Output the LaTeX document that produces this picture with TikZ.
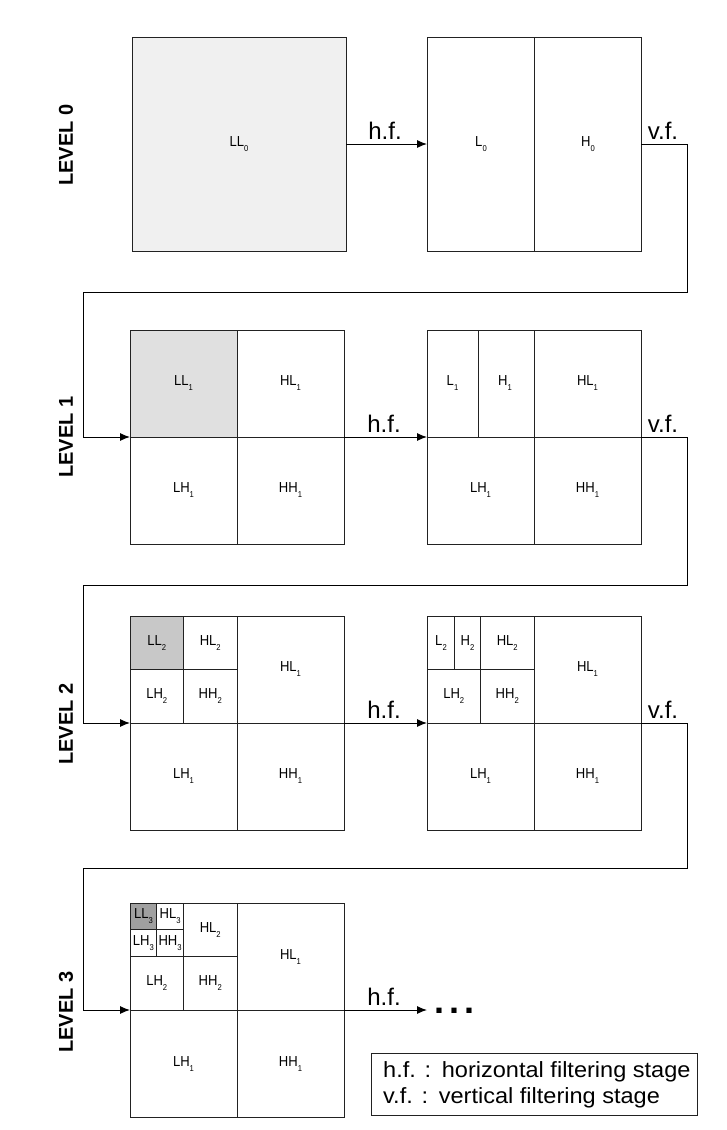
\documentclass[tikz,border=0pt]{standalone}
\usepackage{fontspec}
\setmainfont{Liberation Sans}
\newfontfamily\narrowfont[FakeStretch=0.9]{Liberation Sans}
\newfontfamily\widefont[FakeStretch=1.07]{Liberation Sans}
\usetikzlibrary{arrows.meta}
\definecolor{gA}{HTML}{F0F0F0}
\definecolor{gB}{HTML}{E0E0E0}
\definecolor{gC}{HTML}{C8C8C8}
\definecolor{gD}{HTML}{A0A0A0}
\definecolor{ln}{HTML}{222222}
\newcommand\lowidx[1]{\raisebox{-5pt}{\fontsize{8.5}{8.5}\selectfont #1}}
\tikzset{
  box/.style={draw=ln, line width=1pt, minimum width=214pt, minimum height=214pt, inner sep=0pt, outer sep=0pt},
  cut/.style={draw=ln, line width=1pt},
  cell/.style={font=\narrowfont\fontsize{14.5}{14.5}\selectfont, inner sep=0pt},
  flow/.style={draw=black, line width=1pt, -{Latex[length=10pt,width=8pt]}},
  wire/.style={draw=black, line width=1pt},
  flab/.style={font=\fontsize{24}{24}\selectfont, inner sep=0pt, anchor=base},
  lev/.style={font=\bfseries\fontsize{20}{20}\selectfont, rotate=90, inner sep=0pt},
  legtxt/.style={font=\widefont\fontsize{22}{22}\selectfont, inner sep=0pt, anchor=base west},
}
\begin{document}
\begin{tikzpicture}[x=1pt,y=-1pt]
\useasboundingbox (0,0) rectangle (727,1130);

% ---------------- LEVEL 0
\node[lev] (lev0) at (66,145) {LEVEL 0};
\node[box, fill=gA] (A0) at (239,144) {};
\node[box] (B0) at (534,144) {};
\draw[cut] (B0.north) -- (B0.south);
\node[cell] at (A0.center) {LL\lowidx{0}};
\node[cell] at (481,144) {L\lowidx{0}};
\node[cell] at (588,144) {H\lowidx{0}};
\draw[flow] (A0.east) -- (B0.west);
\node[flab] (hf0) at (385,139) {h.f.};
\coordinate (c0a) at (687,144);
\coordinate (c0b) at (687,292);
\coordinate (c0c) at (83,292);
\coordinate (c0d) at (83,437);

% ---------------- LEVEL 1
\node[lev] (lev1) at (66,437) {LEVEL 1};
\node[box] (A1) at (237,437) {};
\fill[gB] (A1.north west) rectangle (A1.center);
\node[box] (A1b) at (237,437) {};
\draw[cut] (A1.north) -- (A1.south);
\draw[cut] (A1.west) -- (A1.east);
\node[cell] at (183.5,383.5) {LL\lowidx{1}};
\node[cell] at (290.5,383.5) {HL\lowidx{1}};
\node[cell] at (183.5,490.5) {LH\lowidx{1}};
\node[cell] at (290.5,490.5) {HH\lowidx{1}};
\node[box] (B1) at (534,437) {};
\draw[cut] (B1.north) -- (B1.south);
\draw[cut] (B1.west) -- (B1.east);
\draw[cut] (478,330) -- (478,437);
\node[cell] at (452.5,383.5) {L\lowidx{1}};
\node[cell] at (505,383.5) {H\lowidx{1}};
\node[cell] at (587.5,383.5) {HL\lowidx{1}};
\node[cell] at (480.5,490.5) {LH\lowidx{1}};
\node[cell] at (587.5,490.5) {HH\lowidx{1}};
\draw[wire] (B0.east) -- (c0a) -- (c0b) -- (c0c) -- (c0d);
\draw[flow] (c0d) -- (A1.west);
\node[flab] (vf0) at (663,139) {v.f.};
\draw[flow] (A1.east) -- (B1.west);
\node[flab] (hf1) at (384,432) {h.f.};
\coordinate (c1a) at (687,437);
\coordinate (c1b) at (687,585);
\coordinate (c1c) at (83,585);
\coordinate (c1d) at (83,723);

% ---------------- LEVEL 2
\node[lev] (lev2) at (66,724) {LEVEL 2};
\node[box] (A2) at (237,723) {};
\fill[gC] (130,616) rectangle (183.5,669.5);
\node[box] (A2b) at (237,723) {};
\draw[cut] (A2.north) -- (A2.south);
\draw[cut] (A2.west) -- (A2.east);
\draw[cut] (130,669.5) -- (237,669.5);
\draw[cut] (183.5,616) -- (183.5,723);
\node[cell] at (156.75,642.75) {LL\lowidx{2}};
\node[cell] at (210.25,642.75) {HL\lowidx{2}};
\node[cell] at (156.75,696.25) {LH\lowidx{2}};
\node[cell] at (210.25,696.25) {HH\lowidx{2}};
\node[cell] at (290.5,669.5) {HL\lowidx{1}};
\node[cell] at (183.5,776.5) {LH\lowidx{1}};
\node[cell] at (290.5,776.5) {HH\lowidx{1}};
\node[box] (B2) at (534,723) {};
\draw[cut] (B2.north) -- (B2.south);
\draw[cut] (B2.west) -- (B2.east);
\draw[cut] (427,669.5) -- (534,669.5);
\draw[cut] (480.5,616) -- (480.5,723);
\draw[cut] (454.5,616) -- (454.5,669.5);
\node[cell] at (441,642.75) {L\lowidx{2}};
\node[cell] at (467.5,642.75) {H\lowidx{2}};
\node[cell] at (507.25,642.75) {HL\lowidx{2}};
\node[cell] at (453.75,696.25) {LH\lowidx{2}};
\node[cell] at (507.25,696.25) {HH\lowidx{2}};
\node[cell] at (587.5,669.5) {HL\lowidx{1}};
\node[cell] at (480.5,776.5) {LH\lowidx{1}};
\node[cell] at (587.5,776.5) {HH\lowidx{1}};
\draw[wire] (B1.east) -- (c1a) -- (c1b) -- (c1c) -- (c1d);
\draw[flow] (c1d) -- (A2.west);
\node[flab] (vf1) at (663,432) {v.f.};
\draw[flow] (A2.east) -- (B2.west);
\node[flab] (hf2) at (384,718) {h.f.};
\coordinate (c2a) at (687,723);
\coordinate (c2b) at (687,868);
\coordinate (c2c) at (83,868);
\coordinate (c2d) at (83,1010);

% ---------------- LEVEL 3
\node[lev] (lev3) at (66,1012) {LEVEL 3};
\node[box] (A3) at (237,1010) {};
\fill[gD] (130,903) rectangle (156.75,929.75);
\node[box] (A3b) at (237,1010) {};
\draw[cut] (A3.north) -- (A3.south);
\draw[cut] (A3.west) -- (A3.east);
\draw[cut] (130,956.5) -- (237,956.5);
\draw[cut] (183.5,903) -- (183.5,1010);
\draw[cut] (130,929.75) -- (183.5,929.75);
\draw[cut] (156.75,903) -- (156.75,956.5);
\node[cell] at (143.4,916.4) {LL\lowidx{3}};
\node[cell] at (170.1,916.4) {HL\lowidx{3}};
\node[cell] at (143.4,943.1) {LH\lowidx{3}};
\node[cell] at (170.1,943.1) {HH\lowidx{3}};
\node[cell] at (210.25,929.75) {HL\lowidx{2}};
\node[cell] at (156.75,983.25) {LH\lowidx{2}};
\node[cell] at (210.25,983.25) {HH\lowidx{2}};
\node[cell] at (290.5,956.5) {HL\lowidx{1}};
\node[cell] at (183.5,1063.5) {LH\lowidx{1}};
\node[cell] at (290.5,1063.5) {HH\lowidx{1}};
\draw[wire] (B2.east) -- (c2a) -- (c2b) -- (c2c) -- (c2d);
\draw[flow] (c2d) -- (A3.west);
\node[flab] (vf2) at (663,718) {v.f.};
\node[font=\bfseries\fontsize{36}{36}\selectfont, inner sep=0pt, anchor=base west] (dots) at (427,1013) {\hspace{7pt}.\hspace{5pt}.\hspace{5pt}.};
\draw[flow] (A3.east) -- (A3.east -| dots.west);
\node[flab] (hf3) at (384,1005) {h.f.};

% ---------------- legend
\node[draw=ln, line width=1pt, minimum width=326pt, minimum height=62pt, inner sep=0pt] (leg) at (534,1084) {};
\node[legtxt] (leg1) at (383,1077) {h.f. :\hspace{2pt} horizontal filtering stage};
\node[legtxt] (leg2) at (383,1103) {v.f. :\hspace{2pt} vertical filtering stage};
\end{tikzpicture}
\end{document}
